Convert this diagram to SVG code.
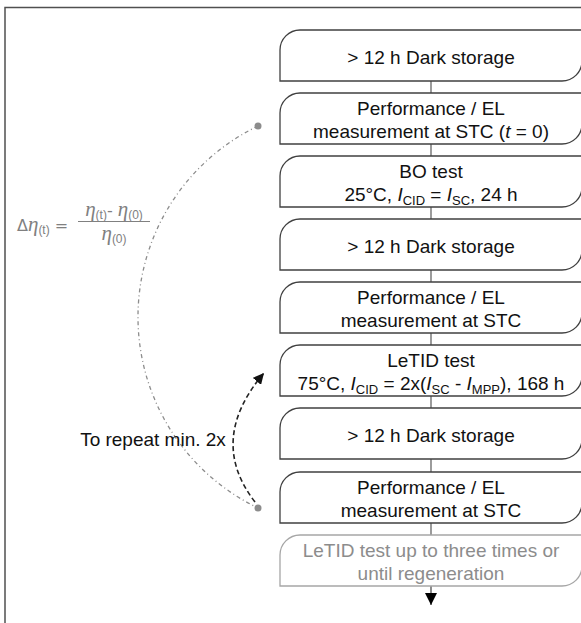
<svg xmlns="http://www.w3.org/2000/svg" width="581" height="623" viewBox="0 0 581 623">
<defs>
<style>
.box{fill:#fff;stroke:#404040;stroke-width:1.3}
.box.faint{stroke:#a6a6a6}
.t{font-family:"Liberation Sans",Arial,sans-serif;font-size:19px;fill:#111;text-anchor:middle}
.t.faint{fill:#8c8c8c}
.sub{font-size:13px}
.it{font-style:italic}
.conn{stroke:#595959;stroke-width:1.2;fill:none}
.f{font-family:"Liberation Serif","Times New Roman",serif;font-size:21px;fill:#808080}
.fs{font-family:"Liberation Sans",Arial,sans-serif;font-size:12px}
.fd{font-family:"DejaVu Sans","Liberation Sans",sans-serif;font-size:16px}
</style>
<marker id="ah" viewBox="0 0 10 10" refX="10" refY="5" markerWidth="12" markerHeight="12" markerUnits="userSpaceOnUse" orient="auto">
<path d="M0,0 L10,5 L0,10 Z" fill="#000"/>
</marker>
<marker id="ah2" viewBox="0 0 10 10" refX="10" refY="5" markerWidth="11" markerHeight="11" markerUnits="userSpaceOnUse" orient="auto">
<path d="M0,0 L10,5 L0,10 Z" fill="#111"/>
</marker>
</defs>
<rect width="581" height="623" fill="#fff"/>
<g id="frame"><path d="M5,623 V7.5 H581" fill="none" stroke="#505050" stroke-width="1.5"/></g>

<g id="connectors">
<line class="conn" x1="431" y1="81" x2="431" y2="93"/>
<line class="conn" x1="431" y1="144" x2="431" y2="156"/>
<line class="conn" x1="431" y1="207" x2="431" y2="219"/>
<line class="conn" x1="431" y1="270" x2="431" y2="282"/>
<line class="conn" x1="431" y1="333" x2="431" y2="345"/>
<line class="conn" x1="431" y1="396" x2="431" y2="408"/>
<line class="conn" x1="431" y1="459" x2="431" y2="472"/>
<line class="conn" x1="431" y1="523" x2="431" y2="535"/>
<line x1="431" y1="586" x2="431" y2="605" stroke="#404040" stroke-width="1.2" marker-end="url(#ah)"/>
<path d="M258,126 A212,212 0 0 0 258,508" fill="none" stroke="#8c8c8c" stroke-width="1.3" stroke-dasharray="4 3 1 3"/>
<circle cx="258" cy="126" r="3.5" fill="#8c8c8c"/>
<circle cx="258" cy="508" r="3.5" fill="#8c8c8c"/>
<path d="M255,502 Q207,440 264,373" fill="none" stroke="#222" stroke-width="1.6" stroke-dasharray="5 3" marker-end="url(#ah2)"/>
</g>

<g id="n1"><path class="box" d="M280,81 V50 A20,20 0 0 1 300,30 H582 V61 A20,20 0 0 1 562,81 Z"/>
<text class="t" x="431" y="63.5">&gt; 12 h Dark storage</text></g>

<g id="n2"><path class="box" d="M280,144 V113 A20,20 0 0 1 300,93 H582 V124 A20,20 0 0 1 562,144 Z"/>
<text class="t" x="431" y="115">Performance / EL</text>
<text class="t" x="431" y="138">measurement at STC (<tspan class="it">t</tspan> = 0)</text></g>

<g id="n3"><path class="box" d="M280,207 V176 A20,20 0 0 1 300,156 H582 V187 A20,20 0 0 1 562,207 Z"/>
<text class="t" x="431" y="178">BO test</text>
<text class="t" x="431" y="201">25°C, <tspan class="it">I</tspan><tspan class="sub" dy="4">CID</tspan><tspan dy="-4"> = </tspan><tspan class="it">I</tspan><tspan class="sub" dy="4">SC</tspan><tspan dy="-4">, 24 h</tspan></text></g>

<g id="n4"><path class="box" d="M280,270 V239 A20,20 0 0 1 300,219 H582 V250 A20,20 0 0 1 562,270 Z"/>
<text class="t" x="431" y="252.5">&gt; 12 h Dark storage</text></g>

<g id="n5"><path class="box" d="M280,333 V302 A20,20 0 0 1 300,282 H582 V313 A20,20 0 0 1 562,333 Z"/>
<text class="t" x="431" y="304">Performance / EL</text>
<text class="t" x="431" y="327">measurement at STC</text></g>

<g id="n6"><path class="box" d="M280,396 V365 A20,20 0 0 1 300,345 H582 V376 A20,20 0 0 1 562,396 Z"/>
<text class="t" x="431" y="367">LeTID test</text>
<text class="t" x="431" y="390">75°C, <tspan class="it">I</tspan><tspan class="sub" dy="4">CID</tspan><tspan dy="-4"> = 2x(</tspan><tspan class="it">I</tspan><tspan class="sub" dy="4">SC</tspan><tspan dy="-4"> - </tspan><tspan class="it">I</tspan><tspan class="sub" dy="4">MPP</tspan><tspan dy="-4">), 168 h</tspan></text></g>

<g id="n7"><path class="box" d="M280,459 V428 A20,20 0 0 1 300,408 H582 V439 A20,20 0 0 1 562,459 Z"/>
<text class="t" x="431" y="441.5">&gt; 12 h Dark storage</text></g>

<g id="n8"><path class="box" d="M280,523 V492 A20,20 0 0 1 300,472 H582 V503 A20,20 0 0 1 562,523 Z"/>
<text class="t" x="431" y="494">Performance / EL</text>
<text class="t" x="431" y="517">measurement at STC</text></g>

<g id="n9"><path class="box faint" d="M280,586 V555 A20,20 0 0 1 300,535 H582 V566 A20,20 0 0 1 562,586 Z"/>
<text class="t faint" x="431" y="557">LeTID test up to three times or</text>
<text class="t faint" x="431" y="580">until regeneration</text></g>

<g id="label"><text class="t" x="153" y="446">To repeat min. 2x</text></g>

<g id="formula">
<text class="f" x="17" y="231"><tspan class="fd">Δ</tspan><tspan class="it">η</tspan><tspan class="fs" dy="3">(t)</tspan><tspan class="fd" dy="-3"> =</tspan></text>
<text class="f" x="114" y="216" text-anchor="middle"><tspan class="it">η</tspan><tspan class="fs" dy="3">(t)</tspan><tspan class="fd" dy="-3">- </tspan><tspan class="it">η</tspan><tspan class="fs" dy="3">(0)</tspan></text>
<line x1="78" y1="221.5" x2="150" y2="221.5" stroke="#808080" stroke-width="1"/>
<text class="f" x="114" y="240" text-anchor="middle"><tspan class="it">η</tspan><tspan class="fs" dy="3">(0)</tspan></text>
</g>
</svg>
